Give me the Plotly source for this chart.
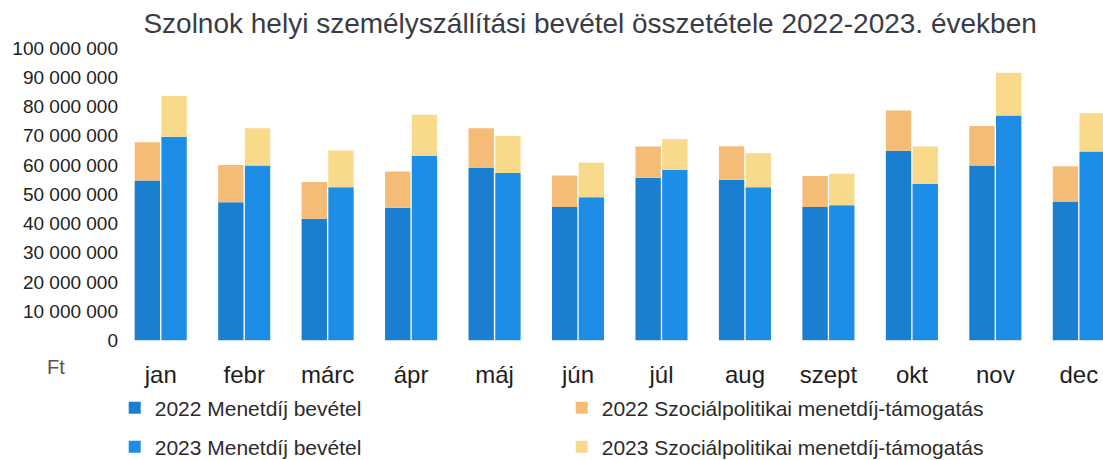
import plotly.graph_objects as go

# Hónapok
months = ["jan", "febr", "márc", "ápr", "máj", "jún", "júl", "aug", "szept", "okt", "nov", "dec"]

# Menetdíj bevétel (Ft)
fare_2022 = [54_700_000, 47_300_000, 41_600_000, 45_400_000, 59_000_000, 45_600_000,
             55_600_000, 55_000_000, 45_600_000, 64_900_000, 59_800_000, 47_500_000]
fare_2023 = [69_700_000, 59_800_000, 52_400_000, 63_200_000, 57_300_000, 49_000_000,
             58_400_000, 52_400_000, 46_200_000, 53_600_000, 76_900_000, 64_600_000]

# Szociálpolitikai menetdíj-támogatás (Ft)
social_2022 = [13_100_000, 12_700_000, 12_600_000, 12_400_000, 13_600_000, 10_800_000,
               10_700_000, 11_400_000, 10_600_000, 13_700_000, 13_500_000, 12_100_000]
social_2023 = [13_900_000, 12_800_000, 12_600_000, 14_000_000, 12_600_000, 11_800_000,
               10_500_000, 11_600_000, 10_800_000, 12_700_000, 14_600_000, 13_100_000]

C_FARE_22 = "#1a7fd0"
C_FARE_23 = "#1e8de6"
C_SOC_22 = "#f5bc78"
C_SOC_23 = "#f9d98a"

FONT = "Liberation Sans, Arial, sans-serif"


def bar(y, name, group, color, legend, base=None):
    return go.Bar(x=months, y=y, base=base, name=name, offsetgroup=group,
                  marker=dict(color=color, line=dict(width=0)), legend=legend)


fig = go.Figure()
fig.add_trace(bar(fare_2022, "2022 Menetdíj bevétel", "2022", C_FARE_22, "legend"))
fig.add_trace(bar(social_2022, "2022 Szociálpolitikai menetdíj-támogatás", "2022",
                  C_SOC_22, "legend", base=fare_2022))
fig.add_trace(bar(fare_2023, "2023 Menetdíj bevétel", "2023", C_FARE_23, "legend2"))
fig.add_trace(bar(social_2023, "2023 Szociálpolitikai menetdíj-támogatás", "2023",
                  C_SOC_23, "legend2", base=fare_2023))

legend_common = dict(
    orientation="h", xref="container", yref="container",
    x=0.104, xanchor="left", yanchor="middle",
    entrywidth=402, entrywidthmode="pixels",
    font=dict(family=FONT, size=21, color="#2b2b2b"),
    itemwidth=30, bgcolor="rgba(0,0,0,0)", traceorder="normal",
)

fig.update_layout(
    width=1103, height=460,
    margin=dict(l=119, r=0, t=48, b=118),
    paper_bgcolor="white", plot_bgcolor="white",
    barmode="group", bargap=0.36, bargroupgap=0.05,
    separators=". ",
    title=dict(text="Szolnok helyi személyszállítási bevétel összetétele 2022-2023. években",
               x=0.535, xanchor="center", y=0.95, yanchor="middle",
               font=dict(family=FONT, size=28, color="#3a3b45")),
    legend=dict(y=1 - 408 / 460, **legend_common),
    legend2=dict(y=1 - 447 / 460, **legend_common),
    showlegend=True,
    annotations=[dict(text="Ft", xref="paper", yref="paper", x=-0.064, y=-0.09,
                      xanchor="center", yanchor="middle", showarrow=False,
                      font=dict(family=FONT, size=20, color="#555555"))],
)

fig.update_xaxes(range=[-0.5, 11.29], showgrid=False, showline=False, ticks="",
                 tickfont=dict(family=FONT, size=24, color="#1e1e1e"),
                 ticklabelstandoff=17)
fig.update_yaxes(range=[0, 100_000_000], dtick=10_000_000, tickformat=",d",
                 showgrid=False, showline=False, zeroline=False, ticks="",
                 tickfont=dict(family=FONT, size=19, color="#222222"),
                 ticklabelstandoff=0)

fig.write_html("out.html")
